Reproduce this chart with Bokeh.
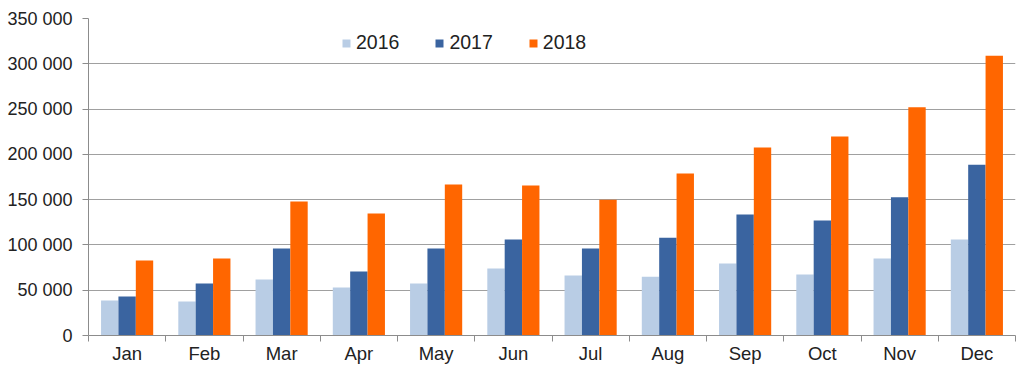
import numpy as np
from bokeh.plotting import figure
from bokeh.models import Range1d, FixedTicker, ColumnDataSource, Legend, LegendItem
from bokeh.embed import file_html
from bokeh.resources import INLINE

months = ["Jan", "Feb", "Mar", "Apr", "May", "Jun", "Jul", "Aug", "Sep", "Oct", "Nov", "Dec"]
years = ["2016", "2017", "2018"]
v2016 = [38600, 37500, 61800, 53000, 57400, 74000, 66200, 65000, 79500, 67300, 85000, 106000]
v2017 = [43000, 57400, 96000, 70600, 96000, 106000, 96000, 108000, 133500, 127000, 152600, 188400]
v2018 = [82800, 85000, 148000, 134700, 166700, 165600, 150000, 178800, 207500, 219600, 252000, 309000]
y_ticks = [0, 50000, 100000, 150000, 200000, 250000, 300000, 350000]

colors = ["#B9CDE5", "#3A64A0", "#FF6600"]
FONT = "Liberation Sans"

centers = np.arange(len(months)) + 0.5
bw = 0.225

p = figure(width=1020, height=374, output_backend="svg", toolbar_location=None,
           x_range=Range1d(0, len(months)), y_range=Range1d(0, y_ticks[-1]),
           min_border_left=88, min_border_right=5, min_border_top=18, min_border_bottom=39)
p.outline_line_color = None
p.background_fill_color = "white"

src = ColumnDataSource(dict(x=centers, v2016=v2016, v2017=v2017, v2018=v2018))
renderers = []
for i, (yr, col) in enumerate(zip(years, colors)):
    off = (i - 1) * bw
    r = p.vbar(x=centers + off, top=src.data["v" + yr], width=bw, fill_color=col, line_color=None)
    renderers.append(r)

# axes
p.xaxis.ticker = FixedTicker(ticks=list(centers), minor_ticks=list(range(len(months) + 1)))
p.xaxis.major_label_overrides = {float(c): m for c, m in zip(centers, months)}
p.xaxis.major_tick_line_color = None
p.xaxis.minor_tick_line_color = "#8C8C8C"
p.xaxis.minor_tick_out = 6
p.xaxis.minor_tick_in = 0
p.xaxis.axis_line_color = "#8C8C8C"
p.xaxis.major_label_text_font = FONT
p.xaxis.major_label_text_font_size = "18.5px"
p.xaxis.major_label_text_color = "#222222"
p.xaxis.major_label_standoff = 1

p.yaxis.ticker = FixedTicker(ticks=y_ticks)
p.yaxis.major_label_overrides = {t: f"{t:,}".replace(",", " ") for t in y_ticks}
p.yaxis.axis_line_color = "#8C8C8C"
p.yaxis.major_tick_line_color = "#8C8C8C"
p.yaxis.major_tick_out = 6
p.yaxis.major_tick_in = 0
p.yaxis.minor_tick_line_color = None
p.yaxis.major_label_text_font = FONT
p.yaxis.major_label_text_font_size = "18px"
p.yaxis.major_label_text_color = "#222222"
p.yaxis.major_label_standoff = 10

p.xgrid.grid_line_color = None
p.ygrid.grid_line_color = "#A0A0A0"
p.ygrid.grid_line_width = 1

legend = Legend(items=[LegendItem(label=yr, renderers=[r]) for yr, r in zip(years, renderers)],
                orientation="horizontal", location=(253, 281))
legend.label_text_font = FONT
legend.label_text_font_size = "19.5px"
legend.label_text_color = "#222222"
legend.glyph_width = 10
legend.glyph_height = 10
legend.label_standoff = 5
legend.spacing = 35
legend.padding = 0
legend.margin = 0
legend.border_line_color = None
legend.background_fill_alpha = 0
p.add_layout(legend)

open("out.html", "w").write(file_html(p, INLINE))
